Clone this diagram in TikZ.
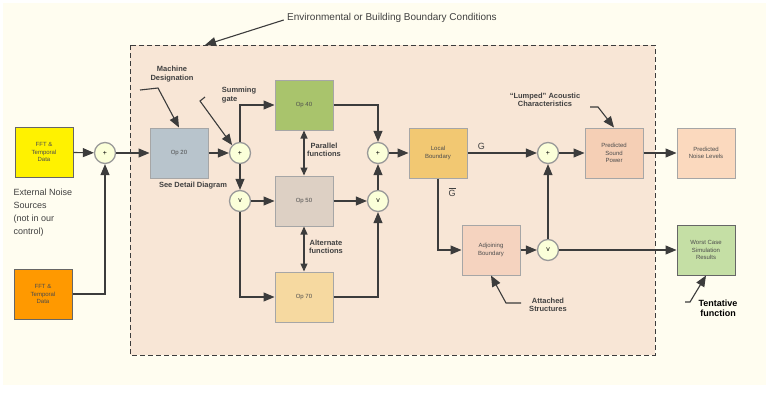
\documentclass[tikz,border=0pt]{standalone}
\usepackage{fontspec}
\setmainfont{Liberation Sans}
\usetikzlibrary{arrows.meta}
\definecolor{outerbg}{HTML}{FFFDF0}
\definecolor{innerbg}{HTML}{F8E6D6}
\definecolor{lineg}{HTML}{3C3C3C}
\begin{document}
\begin{tikzpicture}[x=1pt,y=-1pt,
  box/.style={draw=gray!70,line width=1pt,minimum width=58pt,minimum height=50pt,align=center,font=\fontsize{6}{7.5}\selectfont,text=black!70},
  gate/.style={circle,draw=gray!80,line width=1.3pt,fill=green!10!yellow!15,minimum size=21pt,inner sep=0pt,font=\fontsize{7}{8}\selectfont},
  con/.style={draw=lineg,line width=1.1pt,-{Triangle[length=11pt,width=9pt]}},
  dcon/.style={draw=lineg,line width=1.1pt,{Triangle[length=8pt,width=7pt]}-{Triangle[length=8pt,width=7pt]}},
  ann/.style={font=\bfseries\fontsize{7.5}{8.5}\selectfont,text=black!75,align=center},
  lab/.style={font=\fontsize{9}{11}\selectfont,text=black!75,align=left}]
\useasboundingbox (0,0) rectangle (769,418);
\fill[white] (0,0) rectangle (769,418);
\fill[outerbg] (3,3) rectangle (766,385);
\draw[lineg,line width=1pt,dash pattern=on 5pt off 3pt,fill=innerbg] (130,45) rectangle (655,355);
\node[lab,font=\fontsize{10}{12}\selectfont] (title) at (392,18) {Environmental or Building Boundary Conditions};
\draw[con] (title.west) ++(0,2) coordinate (tt) -- (205,45);
% nodes
\node[box,fill=yellow,draw=black!60] (f1) at (44,152) {FFT \&\\Temporal\\Data};
\node[box,fill=orange!80!yellow,draw=black!60] (f2) at (43,294) {FFT \&\\Temporal\\Data};
\node[gate] (s1) at (105,153) {+};
\node[box,fill={rgb,255:red,184;green,196;blue,204}] (op20) at (179,153) {Op 20};
\node[gate] (s2) at (240,153) {+};
\node[gate] (v1) at (240,201) {v};
\node[box,fill={rgb,255:red,169;green,196;blue,108}] (op40) at (304,105) {Op 40};
\node[box,fill={rgb,255:red,221;green,208;blue,196}] (op50) at (304,201) {Op 50};
\node[box,fill={rgb,255:red,246;green,217;blue,160}] (op70) at (304,297) {Op 70};
\node[gate] (s3) at (378,153) {+};
\node[gate] (v2) at (378,201) {v};
\node[box,fill={rgb,255:red,242;green,200;blue,114}] (lb) at (438,153) {Local\\Boundary};
\node[gate] (s4) at (548,153) {+};
\node[box,fill={rgb,255:red,245;green,207;blue,181}] (psp) at (614,153) {Predicted\\Sound\\Power};
\node[box,fill={rgb,255:red,251;green,217;blue,190}] (pnl) at (706,153) {Predicted\\Noise Levels};
\node[box,fill={rgb,255:red,245;green,211;blue,191}] (ab) at (491,250) {Adjoining\\Boundary};
\node[gate] (v3) at (548,250) {v};
\node[box,fill={rgb,255:red,197;green,223;blue,165},draw=black!60] (wc) at (706,250) {Worst Case\\Simulation\\Results};
% connectors
\draw[con] (f1) -- (s1);
\draw[con] (f2.east) -| (s1.south);
\draw[con] (s1) -- (op20);
\draw[con] (op20) -- (s2);
\draw[con] (s2.north) |- (op40.west);
\draw[con] (s2) -- (v1);
\draw[con] (v1) -- (op50);
\draw[con] (v1.south) |- (op70.west);
\draw[con] (op40.east) -| (s3.north);
\draw[con] (op50) -- (v2);
\draw[con] (op70.east) -| (v2.south);
\draw[con] (v2) -- (s3);
\draw[dcon] (op40) -- (op50);
\draw[dcon] (op50) -- (op70);
\draw[con] (s3) -- (lb);
\draw[con] (lb) -- node[lab,above,pos=0.2]{G} (s4);
\draw[con] (lb.south) ++(0,0) coordinate (lbs) -- (lbs |- ab.west) -- (ab.west);
\node[lab] (gbar) at (452,192) {$\overline{\mathrm{G}}$};
\draw[con] (ab) -- (v3);
\draw[con] (v3) -- (s4);
\draw[con] (s4) -- (psp);
\draw[con] (psp) -- (pnl);
\draw[con] (v3) -- (wc);
% annotations
\node[ann] (md) at (172,74) {Machine\\Designation};
\coordinate (md1) at (140,90);
\draw[con] (md1) -- (158,88) -- (op20.north);
\node[ann,align=left] (sg) at (239,95) {Summing\\gate};
\draw[con] (205,97) -- (200,101) -- (s2.north west);
\node[ann] (sdd) at (193,186) {See Detail Diagram};
\node[ann] (pf) at (324,150) {Parallel\\functions};
\node[ann] (af) at (326,247) {Alternate\\functions};
\node[ann] (lu) at (545,100) {``Lumped'' Acoustic\\Characteristics};
\draw[con] (590,107) -- (598,107) -- (psp.north);
\node[ann] (as) at (548,305) {Attached\\Structures};
\draw[con] (521,303) -- (506,303) -- (ab.south);
\node[lab,font=\bfseries\fontsize{9}{10}\selectfont,align=center,text=black] (tf) at (718,308) {Tentative\\function};
\draw[con] (685,302) -- (690,302) -- (wc.south);
\node[lab,anchor=north west,font=\fontsize{9}{13}\selectfont] (ext) at (10,185) {External Noise\\Sources\\(not in our\\control)};
\end{tikzpicture}
\end{document}
